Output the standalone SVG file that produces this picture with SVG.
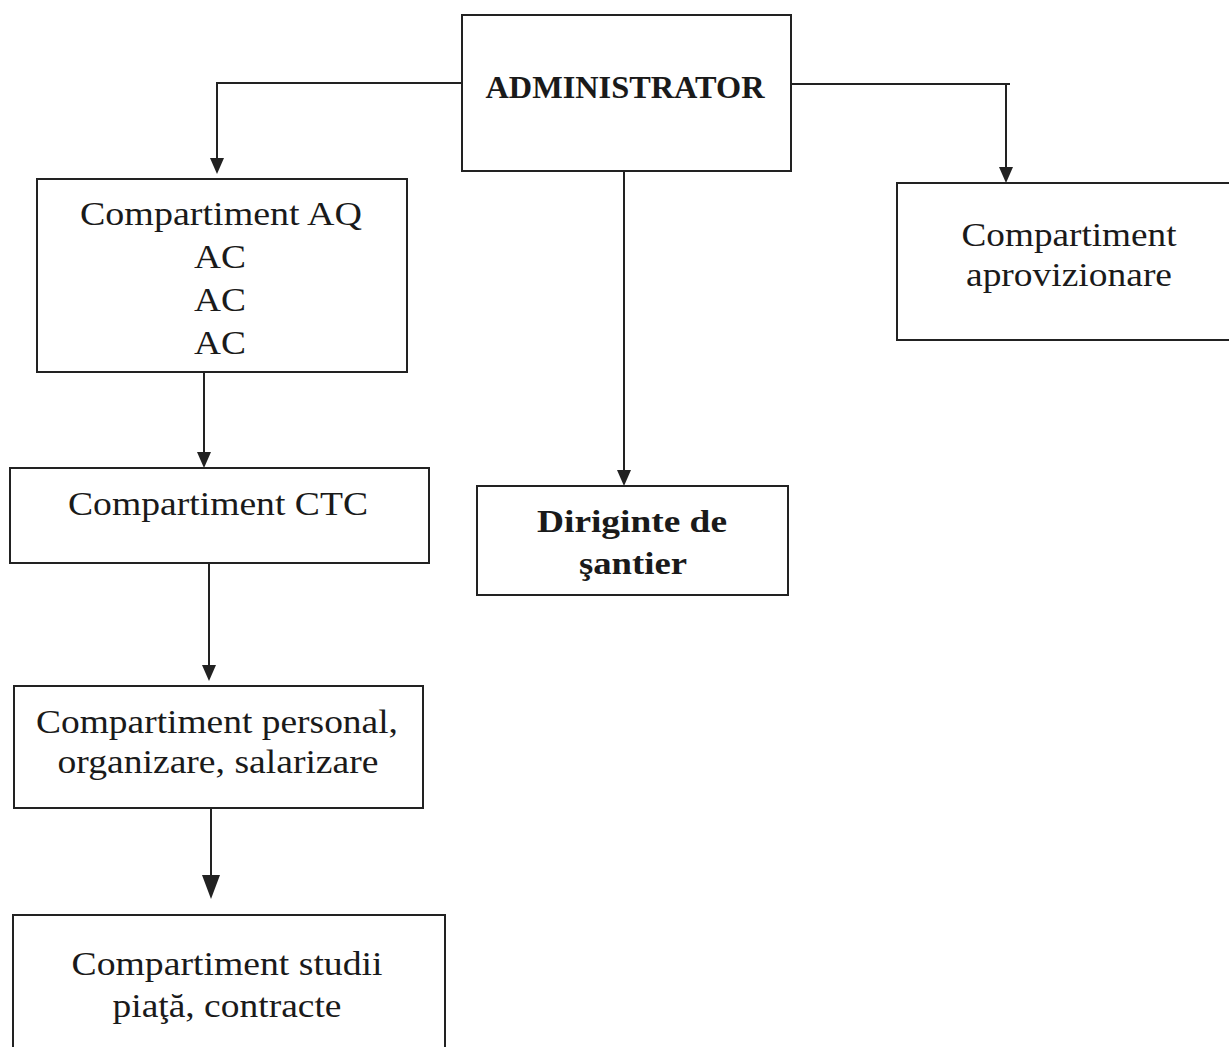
<svg xmlns="http://www.w3.org/2000/svg" width="1229" height="1047" viewBox="0 0 1229 1047">
<style>
.box{fill:#fff;stroke:#222;stroke-width:2}
.t{font-family:"Liberation Serif","Times New Roman",serif;font-size:34px;fill:#1a1a1a;text-anchor:middle}
.b{font-family:"Liberation Serif","Times New Roman",serif;font-size:31px;font-weight:bold;fill:#1a1a1a;text-anchor:middle}
.c{fill:none;stroke:#222;stroke-width:2}
.h{fill:#222}
</style>
<g id="connectors">
<path class="c" d="M462,83 H217 V160"/>
<path class="c" d="M791,84 H1010 M1006,84 V170"/>
<path class="c" d="M624,171 V472"/>
<path class="c" d="M204,372 V454"/>
<path class="c" d="M209,563 V667"/>
<path class="c" d="M211,808 V877"/>
<path class="h" d="M210,158 L224,158 L217,174 Z"/>
<path class="h" d="M999,167 L1013,167 L1006,183 Z"/>
<path class="h" d="M617,470 L631,470 L624,486 Z"/>
<path class="h" d="M197,452 L211,452 L204,468 Z"/>
<path class="h" d="M202,665 L216,665 L209,681 Z"/>
<path class="h" d="M202,875 L220,875 L211,899 Z"/>
</g>
<g id="administrator">
<rect class="box" x="462" y="15" width="329" height="156"/>
<text class="b" x="625" y="98" textLength="279" lengthAdjust="spacingAndGlyphs">ADMINISTRATOR</text>
</g>
<g id="aq">
<rect class="box" x="37" y="179" width="370" height="193"/>
<text class="t" x="221" y="225" textLength="282" lengthAdjust="spacingAndGlyphs">Compartiment AQ</text>
<text class="t" x="220" y="268" textLength="52" lengthAdjust="spacingAndGlyphs">AC</text>
<text class="t" x="220" y="311" textLength="52" lengthAdjust="spacingAndGlyphs">AC</text>
<text class="t" x="220" y="354" textLength="52" lengthAdjust="spacingAndGlyphs">AC</text>
</g>
<g id="aprovizionare">
<rect class="box" x="897" y="183" width="340" height="157"/>
<text class="t" x="1069" y="246" textLength="215" lengthAdjust="spacingAndGlyphs">Compartiment</text>
<text class="t" x="1069" y="286" textLength="206" lengthAdjust="spacingAndGlyphs">aprovizionare</text>
</g>
<g id="ctc">
<rect class="box" x="10" y="468" width="419" height="95"/>
<text class="t" x="218" y="515" textLength="300" lengthAdjust="spacingAndGlyphs">Compartiment CTC</text>
</g>
<g id="diriginte">
<rect class="box" x="477" y="486" width="311" height="109"/>
<text class="b" x="632" y="532" textLength="190" lengthAdjust="spacingAndGlyphs">Diriginte de</text>
<text class="b" x="633" y="574" textLength="108" lengthAdjust="spacingAndGlyphs">şantier</text>
</g>
<g id="personal">
<rect class="box" x="14" y="686" width="409" height="122"/>
<text class="t" x="217" y="733" textLength="362" lengthAdjust="spacingAndGlyphs">Compartiment personal,</text>
<text class="t" x="218" y="773" textLength="321" lengthAdjust="spacingAndGlyphs">organizare, salarizare</text>
</g>
<g id="studii">
<rect class="box" x="13" y="915" width="432" height="140"/>
<text class="t" x="227" y="975" textLength="311" lengthAdjust="spacingAndGlyphs">Compartiment studii</text>
<text class="t" x="227" y="1017" textLength="229" lengthAdjust="spacingAndGlyphs">piaţă, contracte</text>
</g>
</svg>
